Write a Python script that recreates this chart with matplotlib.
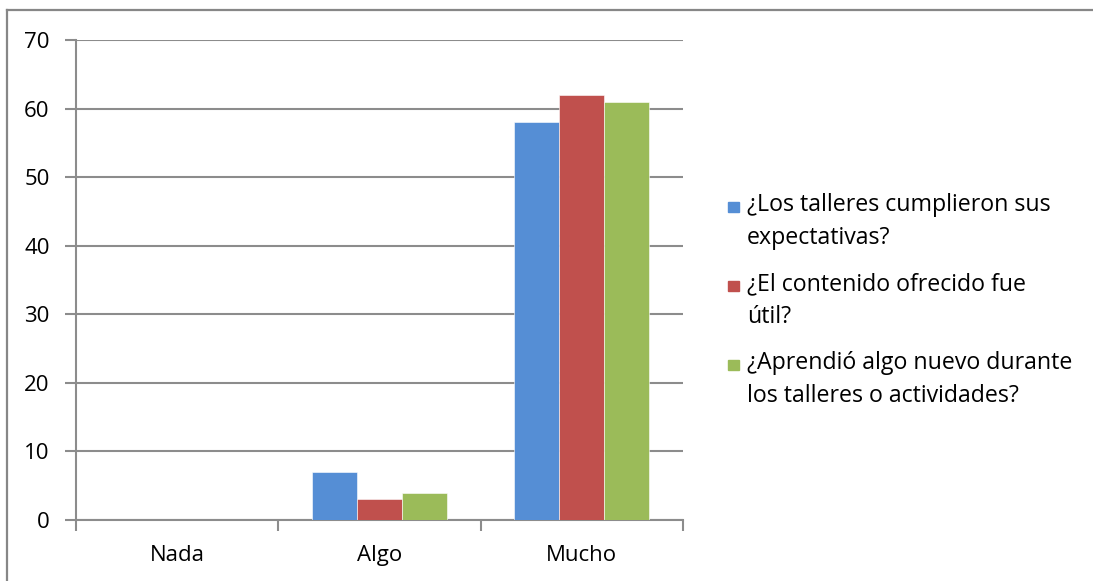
import matplotlib
matplotlib.use("Agg")
import matplotlib.pyplot as plt
from matplotlib.patches import Rectangle
from matplotlib.lines import Line2D
import numpy as np

categories = ["Nada", "Algo", "Mucho"]
series_labels = [
    "¿Los talleres cumplieron sus\nexpectativas?",
    "¿El contenido ofrecido fue\nútil?",
    "¿Aprendió algo nuevo durante\nlos talleres o actividades?",
]
expectativas = [0, 7, 58]
contenido_util = [0, 3, 62]
aprendio_nuevo = [0, 4, 61]
y_ticks = [0, 10, 20, 30, 40, 50, 60, 70]

colors = ["#558ED5", "#C0504D", "#9BBB59"]
grid_color = "#8C8C8C"
font = ["Open Sans", "DejaVu Sans"]
fs = 16
fs_legend = 16.7

W, H = 1093, 581
fig = plt.figure(figsize=(W / 100, H / 100), dpi=100)
plt.rcParams["font.family"] = font

# outer chart-area border (runs off the right and bottom edges)
fig.add_artist(Line2D([7 / W, 1.01], [1 - 10 / H, 1 - 10 / H], color="#878787",
                      lw=1.6, transform=fig.transFigure))
fig.add_artist(Line2D([7 / W, 7 / W], [1 - 10 / H, -0.01], color="#878787",
                      lw=1.6, transform=fig.transFigure))

ax = fig.add_axes([76 / W, 1 - 520 / H, (683 - 76) / W, (520 - 40) / H])
x = np.arange(len(categories))
w = 0.222
for i, vals in enumerate([expectativas, contenido_util, aprendio_nuevo]):
    ax.bar(x + (i - 1) * w, vals, width=w, color=colors[i],
           edgecolor="white", linewidth=0.4, zorder=3)

ax.set_xlim(-0.5, len(categories) - 0.5)
ax.set_ylim(0, 70)
ax.set_yticks(y_ticks)
ax.set_yticklabels([str(v) for v in y_ticks], fontsize=fs, color="black")
ax.yaxis.grid(True, color=grid_color, lw=1.5, zorder=0)
ax.set_axisbelow(True)

# category labels centered, tick marks at category boundaries
ax.set_xticks(np.arange(len(categories) + 1) - 0.5)
ax.set_xticklabels([])
ax.set_xticks(x, minor=True)
ax.set_xticklabels(categories, minor=True, fontsize=fs)
ax.tick_params(axis="x", which="minor", length=0, pad=18)
ax.tick_params(axis="x", which="major", length=8, width=1.5, color=grid_color,
               direction="out")
ax.tick_params(axis="y", length=8, width=1.5, color=grid_color, pad=11,
               direction="out")

for side in ["top", "right"]:
    ax.spines[side].set_visible(False)
for side in ["left", "bottom"]:
    ax.spines[side].set_color(grid_color)
    ax.spines[side].set_linewidth(1.5)

# legend, square aligned with the first text line of each entry
entry_y = [207, 286, 365]
for lab, col, yy in zip(series_labels, colors, entry_y):
    fig.add_artist(Rectangle((728 / W, 1 - (yy + 5) / H), 10.5 / W, 10.5 / H,
                             color=col, transform=fig.transFigure))
    fig.text(747 / W, 1 - (yy - 14) / H, lab, fontsize=fs_legend, va="top",
             ha="left", linespacing=1.5)

fig.savefig("out.png", dpi=100, facecolor="white")
